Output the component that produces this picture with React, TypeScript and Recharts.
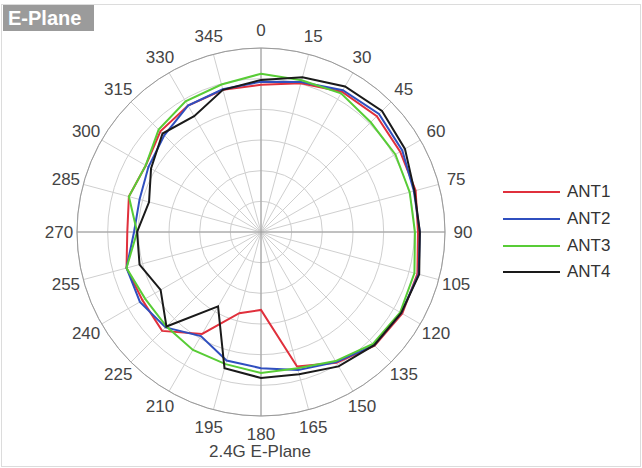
import { RadarChart, Radar, PolarGrid, PolarAngleAxis, PolarRadiusAxis, Legend } from "recharts";

// angles in degrees, 0 at top, clockwise
const angles = [0, 15, 30, 45, 60, 75, 90, 105, 120, 135, 150, 165, 180, 195, 210, 225, 240, 255, 270, 285, 300, 315, 330, 345];

// gain in dB (outer ring = 0 dB, center = -30 dB)
const ant1 = [-6.0, -4.9, -3.6, -3.3, -3.8, -3.9, -4.4, -3.6, -3.4, -3.8, -5.4, -7.3, -17.3, -16.3, -10.8, -7.2, -7.7, -7.3, -8.2, -7.7, -8.3, -6.8, -6.2, -6.0];
const ant2 = [-5.5, -4.7, -3.3, -2.8, -3.4, -4.2, -4.1, -3.4, -3.6, -3.9, -5.5, -6.7, -7.8, -8.3, -10.4, -8.0, -7.2, -7.3, -9.3, -9.5, -8.8, -7.7, -6.2, -5.9];
const ant3 = [-4.2, -4.4, -3.9, -4.7, -4.7, -4.9, -4.9, -4.1, -3.8, -4.2, -5.7, -7.0, -7.0, -7.7, -7.8, -8.2, -8.2, -7.3, -9.8, -7.7, -8.3, -6.4, -5.4, -5.1];
const ant4 = [-5.2, -3.9, -2.6, -2.1, -2.9, -4.1, -4.1, -3.3, -3.6, -3.9, -4.7, -6.0, -6.2, -7.0, -16.0, -8.2, -11.1, -9.5, -9.8, -11.1, -9.3, -7.3, -8.2, -6.0];

const ringValues = [-25, -20, -15, -10, -5, 0];

const series = [
  { key: "ANT1", color: "#e0303c" },
  { key: "ANT2", color: "#2f4fbf" },
  { key: "ANT3", color: "#58cc36" },
  { key: "ANT4", color: "#1a1a1a" },
];

const data = angles.map((a, i) => ({
  angle: String(a),
  ANT1: ant1[i],
  ANT2: ant2[i],
  ANT3: ant3[i],
  ANT4: ant4[i],
}));

const CX = 261;
const CY = 232;
const R = 184;
const FONT = "'Liberation Sans', Arial, sans-serif";

const ringRadii = ringValues.map((v) => ((v + 30) / 30) * R);

function AngleTick(props: any) {
  const { x, y, payload } = props;
  const dx = x - CX;
  const dy = y - CY;
  const d = Math.hypot(dx, dy) || 1;
  return (
    <text
      x={CX + (dx / d) * 202}
      y={CY + (dy / d) * 202}
      textAnchor="middle"
      dominantBaseline="central"
      fontSize={17}
      fill="#444"
      fontFamily={FONT}
    >
      {payload.value}
    </text>
  );
}

function LegendBox() {
  return (
    <div style={{ fontFamily: FONT, fontSize: 17, color: "#333" }}>
      {series.map((s) => (
        <div key={s.key} style={{ display: "flex", alignItems: "center", height: 26.7 }}>
          <svg width={57} height={4} style={{ display: "block" }}>
            <line x1={0} y1={2} x2={57} y2={2} stroke={s.color} strokeWidth={2} />
          </svg>
          <span style={{ marginLeft: 7 }}>{s.key}</span>
        </div>
      ))}
    </div>
  );
}

export default function App() {
  return (
    <div style={{ position: "absolute", left: 0, top: 0, width: 642, height: 468, background: "#fff" }}>
      <div
        style={{
          position: "absolute",
          left: 1,
          top: 4,
          width: 638,
          height: 461,
          border: "1px solid #dcdcdc",
        }}
      />
      <RadarChart
        width={642}
        height={468}
        data={data}
        cx={CX}
        cy={CY}
        outerRadius={R}
        margin={{ top: 0, right: 0, bottom: 0, left: 0 }}
      >
        <PolarGrid gridType="circle" stroke="#cfcfcf" polarRadius={ringRadii} />
        <PolarGrid gridType="circle" stroke="#9a9a9a" polarAngles={[90, 0, -90, -180]} polarRadius={[R]} />
        <PolarAngleAxis dataKey="angle" tick={AngleTick} tickLine={false} axisLine={false} />
        <PolarRadiusAxis domain={[-30, 0]} tickCount={7} tick={false} axisLine={false} />
        {series.map((s) => (
          <Radar
            key={s.key}
            name={s.key}
            dataKey={s.key}
            stroke={s.color}
            strokeWidth={2}
            fill="none"
            fillOpacity={0}
            dot={false}
            isAnimationActive={false}
          />
        ))}
        <Legend
          layout="vertical"
          align="right"
          verticalAlign="middle"
          content={() => <LegendBox />}
          wrapperStyle={{ left: 503, top: 179, width: 120 }}
        />
      </RadarChart>
      <div
        style={{
          position: "absolute",
          left: 3,
          top: 5,
          width: 91,
          height: 26,
          background: "#9b9b9b",
          color: "#fff",
          fontFamily: FONT,
          fontWeight: "bold",
          fontSize: 20,
          lineHeight: "26px",
          paddingLeft: 5,
          boxSizing: "border-box",
        }}
      >
        E-Plane
      </div>
      <div
        style={{
          position: "absolute",
          left: 160,
          width: 200,
          top: 442,
          textAlign: "center",
          fontFamily: FONT,
          fontSize: 17,
          color: "#444",
        }}
      >
        2.4G E-Plane
      </div>
    </div>
  );
}
